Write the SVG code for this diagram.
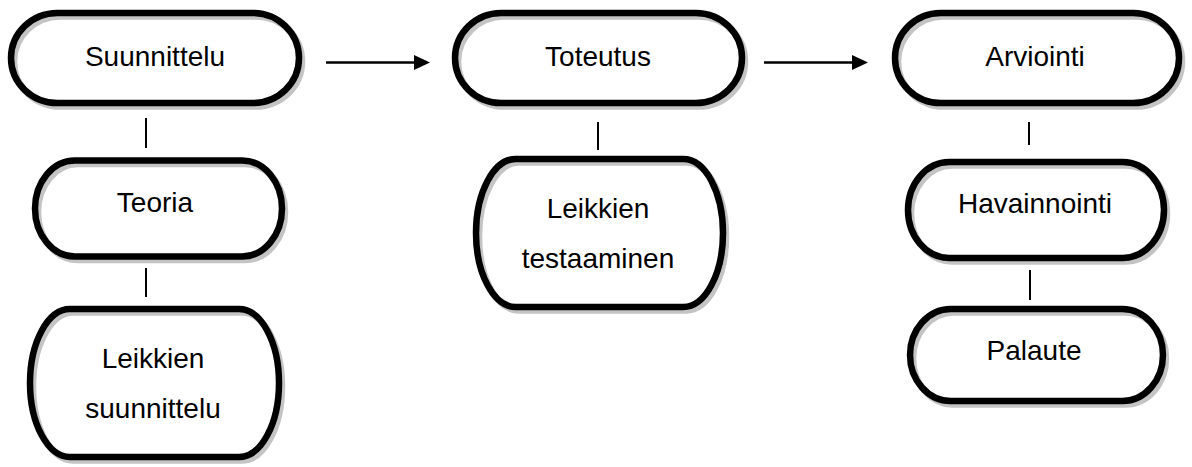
<svg xmlns="http://www.w3.org/2000/svg" xmlns:xlink="http://www.w3.org/1999/xlink" width="1192" height="467" viewBox="0 0 1192 467">
  <style>
    .shadow { fill: none; stroke: #c4c4c4; stroke-width: 6.5; }
    .outline { fill: none; stroke: #000; stroke-width: 6.5; }
    .label { font-family: "Liberation Sans", Arial, sans-serif; font-size: 28px; fill: #000; text-anchor: middle; }
    .link { stroke: #000; stroke-width: 2; fill: none; }
    .flow { stroke: #000; stroke-width: 2.6; fill: none; }
  </style>
  <defs>
    <!-- terminator outlines: straight top/bottom, elliptical ends -->
    <path id="shape-suunnittelu" d="M57.3,13 H252.7 A46.3 45 0 0 1 252.7,103 H57.3 A46.3 45 0 0 1 57.3,13 Z"/>
    <path id="shape-teoria" d="M74.7,160.5 H242.3 A39.7 48 0 0 1 242.3,256.5 H74.7 A39.7 48 0 0 1 74.7,160.5 Z"/>
    <path id="shape-leikkien-suunnittelu" d="M70,309 H239 A40 74 0 0 1 239,457 H70 A40 74 0 0 1 70,309 Z"/>
    <path id="shape-toteutus" d="M501.2,13 H695.8 A46.2 45 0 0 1 695.8,103 H501.2 A46.2 45 0 0 1 501.2,13 Z"/>
    <path id="shape-testaaminen" d="M515.7,159 H683.3 A39.7 74 0 0 1 683.3,307 H515.7 A39.7 74 0 0 1 515.7,159 Z"/>
    <path id="shape-arviointi" d="M940.7,13 H1133.3 A45.7 45 0 0 1 1133.3,103 H940.7 A45.7 45 0 0 1 940.7,13 Z"/>
    <path id="shape-havainnointi" d="M949.2,162 H1122.8 A41.2 48 0 0 1 1122.8,258 H949.2 A41.2 48 0 0 1 949.2,162 Z"/>
    <path id="shape-palaute" d="M950.7,309 H1122.3 A40.7 46 0 0 1 1122.3,401 H950.7 A40.7 46 0 0 1 950.7,309 Z"/>
  </defs>

  <rect width="1192" height="467" fill="#fff"/>

  <g id="connectors">
    <line class="link" x1="146" y1="118" x2="146" y2="148"/>
    <line class="link" x1="146" y1="268" x2="146" y2="297"/>
    <line class="link" x1="598" y1="122" x2="598" y2="150"/>
    <line class="link" x1="1029" y1="122" x2="1029" y2="145"/>
    <line class="link" x1="1030" y1="270" x2="1030" y2="300"/>
    <line class="flow" x1="326" y1="62.5" x2="416" y2="62.5"/>
    <polygon points="414,55 430,62.5 414,70" fill="#000"/>
    <line class="flow" x1="764" y1="62.5" x2="854" y2="62.5"/>
    <polygon points="852,55 868,62.5 852,70" fill="#000"/>
  </g>

  <g id="node-suunnittelu">
    <use xlink:href="#shape-suunnittelu" class="shadow" transform="translate(3,3.5)"/>
    <use xlink:href="#shape-suunnittelu" class="outline"/>
    <text class="label" x="155" y="66">Suunnittelu</text>
  </g>
  <g id="node-teoria">
    <use xlink:href="#shape-teoria" class="shadow" transform="translate(3,3.5)"/>
    <use xlink:href="#shape-teoria" class="outline"/>
    <text class="label" x="155" y="212">Teoria</text>
  </g>
  <g id="node-leikkien-suunnittelu">
    <use xlink:href="#shape-leikkien-suunnittelu" class="shadow" transform="translate(3,3.5)"/>
    <use xlink:href="#shape-leikkien-suunnittelu" class="outline"/>
    <text class="label" x="153" y="368">Leikkien</text>
    <text class="label" x="153" y="418">suunnittelu</text>
  </g>
  <g id="node-toteutus">
    <use xlink:href="#shape-toteutus" class="shadow" transform="translate(3,3.5)"/>
    <use xlink:href="#shape-toteutus" class="outline"/>
    <text class="label" x="598" y="66">Toteutus</text>
  </g>
  <g id="node-leikkien-testaaminen">
    <use xlink:href="#shape-testaaminen" class="shadow" transform="translate(3,3.5)"/>
    <use xlink:href="#shape-testaaminen" class="outline"/>
    <text class="label" x="598" y="218">Leikkien</text>
    <text class="label" x="598" y="268">testaaminen</text>
  </g>
  <g id="node-arviointi">
    <use xlink:href="#shape-arviointi" class="shadow" transform="translate(3,3.5)"/>
    <use xlink:href="#shape-arviointi" class="outline"/>
    <text class="label" x="1035" y="66">Arviointi</text>
  </g>
  <g id="node-havainnointi">
    <use xlink:href="#shape-havainnointi" class="shadow" transform="translate(3,3.5)"/>
    <use xlink:href="#shape-havainnointi" class="outline"/>
    <text class="label" x="1035" y="213">Havainnointi</text>
  </g>
  <g id="node-palaute">
    <use xlink:href="#shape-palaute" class="shadow" transform="translate(3,3.5)"/>
    <use xlink:href="#shape-palaute" class="outline"/>
    <text class="label" x="1034" y="360">Palaute</text>
  </g>
</svg>
